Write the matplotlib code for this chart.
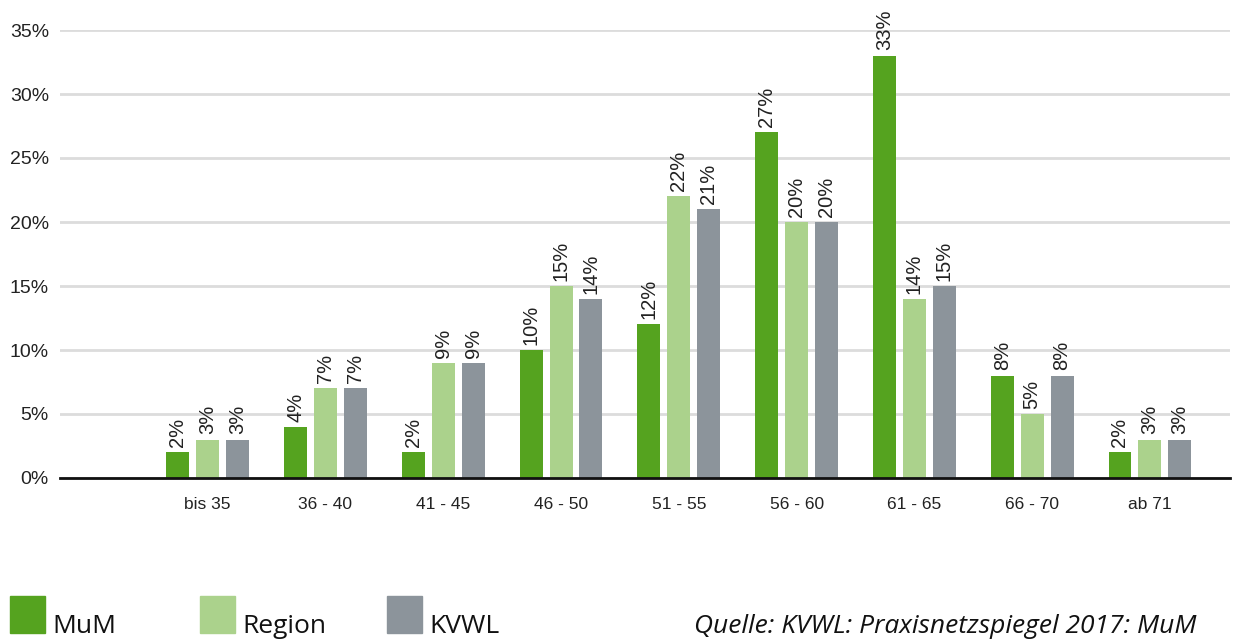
import matplotlib.pyplot as plt
import matplotlib.patches as mpatches
import numpy as np

categories = ["bis 35", "36 - 40", "41 - 45", "46 - 50", "51 - 55",
              "56 - 60", "61 - 65", "66 - 70", "ab 71"]
mum = [2, 4, 2, 10, 12, 27, 33, 8, 2]
region = [3, 7, 9, 15, 22, 20, 14, 5, 3]
kvwl = [3, 7, 9, 14, 21, 20, 15, 8, 3]
series_names = ["MuM", "Region", "KVWL"]
colors = ["#55a31f", "#abd28c", "#8c949b"]
yticks = [0, 5, 10, 15, 20, 25, 30, 35]

fig = plt.figure(figsize=(12.37, 6.39), dpi=100)
ax = fig.add_axes([60 / 1237, 1 - 478 / 639, 1170 / 1237, 448 / 639])

x = np.arange(len(categories))
pitch = 0.254
width = 0.195
for i, (vals, col) in enumerate(zip([mum, region, kvwl], colors)):
    xs = x + (i - 1) * pitch
    ax.bar(xs, vals, width=width, color=col, zorder=3)
    for xi, v in zip(xs, vals):
        ax.text(xi, v + 0.4, f"{v}%", rotation=90, ha="center", va="bottom",
                fontsize=14.5, family="Liberation Sans", color="#222222", clip_on=False)

ax.set_xlim(-1.254, 8.68)
ax.set_ylim(0, 35)
ax.set_yticks(yticks)
ax.set_yticklabels([f"{t}%" for t in yticks], fontsize=14, family="Liberation Sans", color="#222222")
ax.set_xticks(x)
ax.set_xticklabels(categories, fontsize=12.5, family="Liberation Sans", color="#222222")
ax.tick_params(axis="both", length=0)
ax.tick_params(axis="x", pad=14)
ax.tick_params(axis="y", pad=8)
ax.yaxis.grid(True, color="#dcdcdc", lw=2, zorder=0)
for s in ["top", "right", "left"]:
    ax.spines[s].set_visible(False)
ax.spines["bottom"].set_color("#111111")
ax.spines["bottom"].set_linewidth(2)
ax.spines["bottom"].set_zorder(4)

# legend + source line
lx = [10, 200, 387]
for px, name, col in zip(lx, series_names, colors):
    fig.patches.append(mpatches.Rectangle((px / 1237, 1 - 633 / 639), 35 / 1237, 37 / 639,
                                          transform=fig.transFigure, color=col))
    fig.text((px + 42) / 1237, 1 - 633 / 639, name, fontsize=19, family="Open Sans",
             va="baseline", ha="left", color="#111111")
fig.text(1197 / 1237, 1 - 633 / 639, "Quelle: KVWL: Praxisnetzspiegel 2017: MuM",
         fontsize=19, family="Open Sans", style="italic", ha="right", va="baseline", color="#111111")

fig.savefig("out.png", dpi=100)
